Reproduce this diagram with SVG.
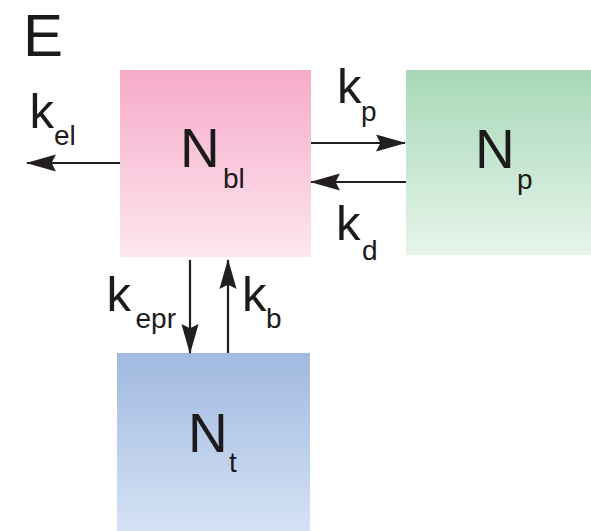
<svg xmlns="http://www.w3.org/2000/svg" width="591" height="531" viewBox="0 0 591 531">
  <defs>
    <linearGradient id="gPink" x1="0" y1="0" x2="0" y2="1">
      <stop offset="0" stop-color="#f6abc9"/>
      <stop offset="1" stop-color="#fde6ef"/>
    </linearGradient>
    <linearGradient id="gGreen" x1="0" y1="0" x2="0" y2="1">
      <stop offset="0" stop-color="#a7d8b8"/>
      <stop offset="1" stop-color="#e7f5eb"/>
    </linearGradient>
    <linearGradient id="gBlue" x1="0" y1="0" x2="0" y2="1">
      <stop offset="0" stop-color="#a1b9e0"/>
      <stop offset="1" stop-color="#d4e2f4"/>
    </linearGradient>
    <marker id="head" markerUnits="userSpaceOnUse" markerWidth="30" markerHeight="18" viewBox="0 0 28 16" refX="27" refY="8" orient="auto">
      <path d="M0,0 L28,8 L0,16 L4,8 Z" fill="#231f20"/>
    </marker>
  </defs>
  <style>
    text { font-family: "Liberation Sans", Arial, sans-serif; fill: #1c1a1b; }
    .big { font-size: 55px; }
    .rate { font-size: 49px; }
    .sub { font-size: 28px; }
    .arrow { stroke: #231f20; stroke-width: 2.2; fill: none; marker-end: url(#head); }
  </style>

  <text x="23" y="56" style="font-size:60px">E</text>

  <g id="node-blood">
    <rect x="120" y="70" width="191" height="187" fill="url(#gPink)"/>
    <text class="big" x="180" y="167">N</text>
    <text class="sub" x="223" y="188">bl</text>
  </g>

  <g id="node-plasma">
    <rect x="406" y="70" width="185" height="185" fill="url(#gGreen)"/>
    <text class="big" x="475" y="168">N</text>
    <text class="sub" x="517" y="189">p</text>
  </g>

  <g id="node-tissue">
    <rect x="117" y="353" width="193" height="178" fill="url(#gBlue)"/>
    <text class="big" x="188" y="452">N</text>
    <text class="sub" x="229" y="472">t</text>
  </g>

  <g id="connectors">
    <line class="arrow" x1="120" y1="163" x2="27" y2="163"/>
    <line class="arrow" x1="311" y1="143" x2="405" y2="143"/>
    <line class="arrow" x1="406" y1="182" x2="311" y2="182"/>
    <line class="arrow" x1="190" y1="260" x2="190" y2="353"/>
    <line class="arrow" x1="228" y1="353" x2="228" y2="260"/>
  </g>

  <g id="rate-labels">
    <text class="rate" x="29.5" y="128">k</text>
    <text class="sub" x="54" y="145">el</text>
    <text class="rate" x="337" y="103">k</text>
    <text class="sub" x="361" y="121">p</text>
    <text class="rate" x="336" y="240">k</text>
    <text class="sub" x="362" y="260">d</text>
    <text class="rate" x="106.5" y="311">k</text>
    <text class="sub" x="135.5" y="328">epr</text>
    <text class="rate" x="242" y="311">k</text>
    <text class="sub" x="266" y="328">b</text>
  </g>
</svg>
